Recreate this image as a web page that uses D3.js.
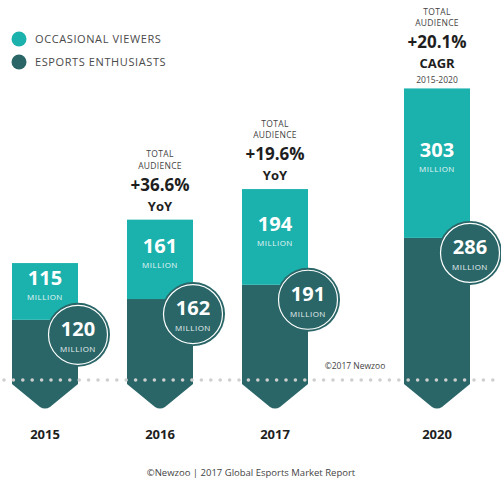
<!DOCTYPE html>
<html>
<head>
<meta charset="utf-8">
<script src="https://cdn.jsdelivr.net/npm/d3@7"></script>
<style>
  body { margin: 0; background: #fff; }
  text { font-family: "Open Sans", sans-serif; }
</style>
</head>
<body>
<svg id="chart" width="501" height="483"></svg>
<script>
// data (millions)
const years = ["2015", "2016", "2017", "2020"];
const enthusiasts = [120, 162, 191, 286];
const occasional = [115, 161, 194, 303];
const seriesNames = ["OCCASIONAL VIEWERS", "ESPORTS ENTHUSIASTS"];
// growth notes above bars
const notes = [
  null,
  {top: ["TOTAL", "AUDIENCE"], big: "+36.6%", sub: "YoY", extra: null},
  {top: ["TOTAL", "AUDIENCE"], big: "+19.6%", sub: "YoY", extra: null},
  {top: ["TOTAL", "AUDIENCE"], big: "+20.1%", sub: "CAGR", extra: "2015-2020"}
];

const lightCol = "#1bb1ad",
      darkCol = "#2a6667";

const svg = d3.select("#chart");
const W = 501, H = 483;
const base = 379;
const barW = 66;

// x: evenly spaced years, with a break before 2020
const step = 115, breakGap = 47;
const x = d3.scalePoint()
  .domain(years)
  .range([45, 45 + step * (years.length - 1)]);
const xc = y => x(y) + (y === "2020" ? breakGap : 0);

const yScale = d3.scaleLinear()
  .domain([0, 600])
  .range([base, base - 296]);

// legend
const legend = svg.append("g");
seriesNames.forEach(function(name, i) {
  legend.append("circle")
    .attr("cx", 19).attr("cy", 39 + i * 23).attr("r", 7.5)
    .attr("fill", i === 0 ? lightCol : darkCol);
  legend.append("text")
    .attr("x", 35).attr("y", 43 + i * 23)
    .attr("font-size", 11)
    .attr("letter-spacing", 0.6)
    .attr("fill", "#4a4a4a")
    .text(name);
});

const g = svg.append("g");

years.forEach(function(yr, i) {
  const cx = xc(yr);
  const x0 = cx - barW / 2, x1 = cx + barW / 2;
  const yDark = yScale(enthusiasts[i]);
  const yTop = yScale(enthusiasts[i] + occasional[i]);

  // dark part with arrow tip
  const tipY = base + 30, neck = base + 5, r = 5;
  const p = d3.path();
  p.moveTo(x0, yDark);
  p.lineTo(x1, yDark);
  p.lineTo(x1, neck);
  p.lineTo(cx + r, tipY - 2);
  p.quadraticCurveTo(cx, tipY + 1, cx - r, tipY - 2);
  p.lineTo(x0, neck);
  p.closePath();
  g.append("path").attr("d", p.toString()).attr("fill", darkCol);

  // light part
  g.append("rect")
    .attr("x", x0).attr("y", yTop)
    .attr("width", barW).attr("height", yDark - yTop)
    .attr("fill", lightCol);

  const mid = (yTop + yDark) / 2;
  g.append("text")
    .attr("x", cx).attr("y", mid - 6)
    .attr("text-anchor", "middle")
    .attr("font-size", 20).attr("font-weight", 700)
    .attr("fill", "#fff")
    .text(occasional[i]);
  g.append("text")
    .attr("x", cx).attr("y", mid + 9)
    .attr("text-anchor", "middle")
    .attr("font-size", 8).attr("letter-spacing", 0.5)
    .attr("fill", "#e6f7f6")
    .text("MILLION");

  // year label
  g.append("text")
    .attr("x", cx).attr("y", base + 60)
    .attr("text-anchor", "middle")
    .attr("font-size", 13).attr("font-weight", 700)
    .attr("fill", "#1e1e1e")
    .text(yr);

  // notes
  const n = notes[i];
  if (n) {
    let yy = yTop - 9;
    if (n.extra) {
      g.append("text").attr("x", cx).attr("y", yTop - 5)
        .attr("text-anchor", "middle").attr("font-size", 8.5)
        .attr("fill", "#444").text(n.extra);
      yy = yTop - 20;
    }
    g.append("text").attr("x", cx).attr("y", yy)
      .attr("text-anchor", "middle").attr("font-size", 13)
      .attr("font-weight", 700).attr("fill", "#1e1e1e").text(n.sub);
    g.append("text").attr("x", cx).attr("y", yy - 20)
      .attr("text-anchor", "middle").attr("font-size", 17)
      .attr("font-weight", 700).attr("fill", "#1e1e1e").text(n.big);
    n.top.slice().reverse().forEach(function(t, k) {
      g.append("text").attr("x", cx).attr("y", yy - 42 - k * 11.5)
        .attr("text-anchor", "middle").attr("font-size", 8.5)
        .attr("letter-spacing", 0.3)
        .attr("fill", "#444").text(t);
    });
  }
});

// dotted baseline
const dots = d3.range(4, W, 9.4);
svg.append("g").selectAll("circle")
  .data(dots).join("circle")
  .attr("cx", d => d).attr("cy", base + 1).attr("r", 1.8)
  .attr("fill", "#cfcfcf");

// enthusiast badges
years.forEach(function(yr, i) {
  const cx = xc(yr) + barW / 2;
  const cy = yScale(enthusiasts[i]) + 15;
  g.append("circle").attr("cx", cx).attr("cy", cy).attr("r", 32)
    .attr("fill", darkCol);
  g.append("circle").attr("cx", cx).attr("cy", cy).attr("r", 29.5)
    .attr("fill", "none").attr("stroke", "#fff").attr("stroke-width", 1.2);
  g.append("text").attr("x", cx).attr("y", cy + 1)
    .attr("text-anchor", "middle").attr("font-size", 20)
    .attr("font-weight", 700).attr("fill", "#fff").text(enthusiasts[i]);
  g.append("text").attr("x", cx).attr("y", cy + 17)
    .attr("text-anchor", "middle").attr("font-size", 8)
    .attr("letter-spacing", 0.5).attr("fill", "#e6f0f0").text("MILLION");
});

svg.append("text")
  .attr("x", 355).attr("y", 369)
  .attr("text-anchor", "middle").attr("font-size", 8.5)
  .attr("fill", "#444").text("\u00a92017 Newzoo");

svg.append("text")
  .attr("x", 251).attr("y", 476)
  .attr("text-anchor", "middle").attr("font-size", 9.5)
  .attr("fill", "#444").text("\u00a9Newzoo | 2017 Global Esports Market Report");
</script>
</body>
</html>
